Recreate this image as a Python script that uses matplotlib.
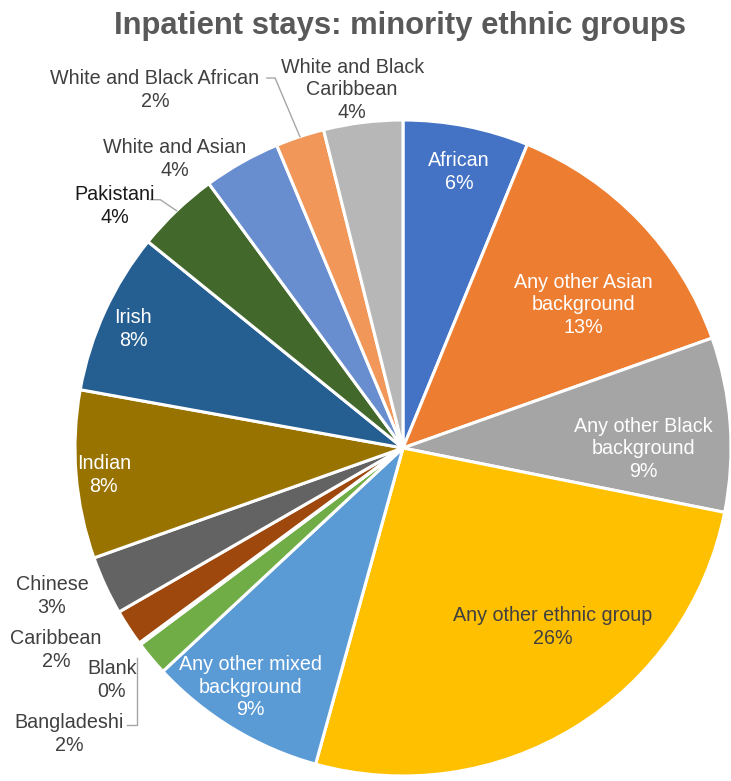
import numpy as np
import matplotlib.pyplot as plt

plt.rcParams['font.family'] = ['Liberation Sans', 'DejaVu Sans']

groups = ['African', 'Any other Asian\nbackground', 'Any other Black\nbackground',
          'Any other ethnic group', 'Any other mixed\nbackground', 'Bangladeshi',
          'Blank', 'Caribbean', 'Chinese', 'Indian', 'Irish', 'Pakistani',
          'White and Asian', 'White and Black African', 'White and Black\nCaribbean']
shares = [6.2, 13.4, 8.6, 26.2, 8.8, 1.7, 0.1, 1.8, 2.9, 8.3, 8.0, 4.1, 3.8, 2.4, 3.9]

colors = ['#4472C4', '#ED7D31', '#A5A5A5', '#FFC000', '#5B9BD5', '#70AD47',
          '#264478', '#9E480E', '#636363', '#997300', '#255E91', '#43682B',
          '#698ED0', '#F1975A', '#B7B7B7']

# label centres in pie-radius units (Excel best-fit placement)
label_xy = [(0.171, 0.842), (0.549, 0.436), (0.732, -0.003), (0.457, -0.546),
            (-0.466, -0.729), (-1.018, -0.872), (-0.888, -0.707), (-1.058, -0.616),
            (-1.070, -0.451), (-0.912, -0.082), (-0.823, 0.363), (-0.878, 0.738),
            (-0.695, 0.881), (-0.756, 1.092), (-0.155, 1.092)]
white_text = {0, 1, 2, 4, 9, 10}
leaders = {5, 11, 13}

fig = plt.figure(figsize=(7.31, 7.81), dpi=100)
R = 328
ax = fig.add_axes([(403 - R) / 731, (781 - 448 - R) / 781, 2 * R / 731, 2 * R / 781])
wedges, _ = ax.pie(shares, colors=colors, startangle=90, counterclock=False,
                   wedgeprops=dict(edgecolor='white', linewidth=2.2))
ax.set_xlim(-1, 1)
ax.set_ylim(-1, 1)

total = sum(shares)
for i, (name, v) in enumerate(zip(groups, shares)):
    pct = round(v / total * 100)
    x, y = label_xy[i]
    if i in white_text:
        c = 'white'
    elif i == 11:
        c = '#1a1a1a'
    else:
        c = '#404040'
    ax.text(x, y, f'{name}\n{pct}%', ha='center', va='center', fontsize=14.2,
            color=c, linespacing=1.25)
    if i in leaders:
        w = wedges[i]
        mid = np.deg2rad((w.theta1 + w.theta2) / 2)
        ex, ey = 1.0 * np.cos(mid), 1.0 * np.sin(mid)
        if i == 13:
            pts = [(-0.415, 1.128), (-0.39, 1.128), (ex, ey)]
        elif i == 11:
            pts = [(-0.770, 0.757), (-0.740, 0.757), (ex, ey)]
        else:
            pts = [(-0.840, -0.843), (-0.810, -0.843), (-0.810, ey)]
        xs, ys = zip(*pts)
        ax.plot(xs, ys, color='#A6A6A6', lw=1.0, clip_on=False)

fig.suptitle('Inpatient stays: minority ethnic groups', x=400 / 731, y=0.986,
             fontsize=22.3, fontweight='bold', color='#595959', va='top')

fig.savefig('out.png', dpi=100)
